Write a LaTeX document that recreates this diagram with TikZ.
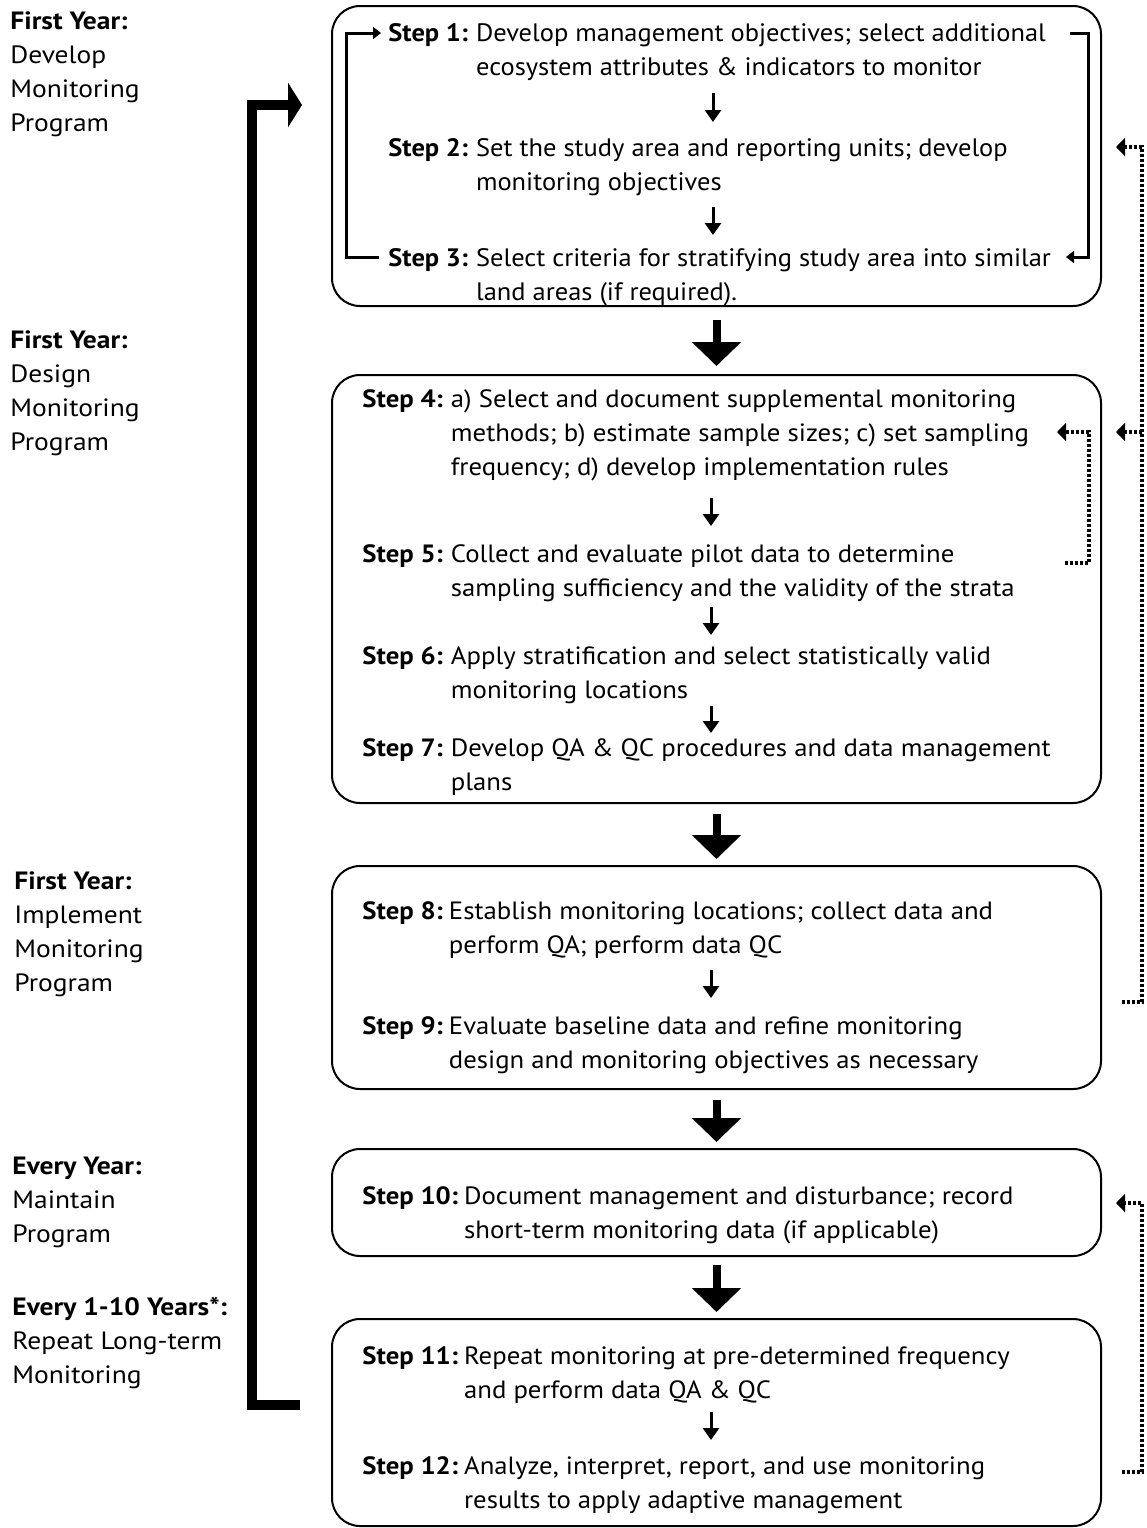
\documentclass[tikz,border=0pt]{standalone}
\usepackage{fontspec}
\setmainfont[FakeStretch=1.1]{PT Sans}
\newfontfamily\boxonefont[FakeStretch=1.05]{PT Sans}
\newfontfamily\boxfont[FakeStretch=1.07]{PT Sans}
\usetikzlibrary{arrows.meta}
\begin{document}
\begin{tikzpicture}[x=0.5pt,y=-0.5pt,
  every node/.style={font=\fontsize{12.5pt}{17pt}\selectfont, inner sep=0pt},
  box/.style={draw, line width=1pt, rounded corners=14pt, anchor=north west},
  steptext/.style={anchor=base west, font=\boxfont\fontsize{12.5pt}{17pt}\selectfont},
  steponetext/.style={anchor=base west, font=\boxonefont\fontsize{12.6pt}{17pt}\selectfont},
  sidelabel/.style={anchor=base west},
  bigarrow/.style={line width=4pt, -{Triangle[length=12pt,width=24pt]}},
  smallarrow/.style={line width=1.5pt, -{Triangle[length=6pt,width=8pt]}},
  bracket/.style={line width=1.5pt, line join=miter, -{Triangle[length=4pt,width=6pt]}},
  dotline/.style={line width=1.6pt, dash pattern=on 1.4pt off 1.1pt, line join=miter, -{Triangle[length=4.5pt,width=9pt]}},
  loopline/.style={line width=5pt, line join=miter, -{Triangle[length=7pt,width=22pt]}}
]
\useasboundingbox (0,0) rectangle (1147,1528);

% boxes
\node[box, minimum width=384.5pt, minimum height=150pt] (b1) at (331,5) {};
\node[box, minimum width=384.5pt, minimum height=214pt] (b2) at (331,374) {};
\node[box, minimum width=384.5pt, minimum height=111.5pt] (b3) at (331,865) {};
\node[box, minimum width=384.5pt, minimum height=53.5pt] (b4) at (331,1148) {};
\node[box, minimum width=384.5pt, minimum height=103.5pt] (b5) at (331,1318) {};

% big arrows between boxes
\draw[bigarrow] ([yshift=-6.5pt]b1.south) -- ([yshift=4pt]b2.north);
\draw[bigarrow] ([yshift=-5pt]b2.south) -- ([yshift=3pt]b3.north);
\draw[bigarrow] ([yshift=-5pt]b3.south) -- ([yshift=3pt]b4.north);
\draw[bigarrow] ([yshift=-4pt]b4.south) -- ([yshift=3pt]b5.north);

% step texts
\node[steponetext] (s1) at (388,41) {\begin{tabular}[t]{@{}l@{\hspace{4pt}}l@{}}\textbf{Step 1:} & Develop management objectives; select additional\\ & ecosystem attributes \& indicators to monitor\end{tabular}};
\node[steponetext] (s2) at (388,156) {\begin{tabular}[t]{@{}l@{\hspace{4pt}}l@{}}\textbf{Step 2:} & Set the study area and reporting units; develop\\ & monitoring objectives\end{tabular}};
\node[steponetext] (s3) at (388,266) {\begin{tabular}[t]{@{}l@{\hspace{4pt}}l@{}}\textbf{Step 3:} & Select criteria for stratifying study area into similar\\ & land areas (if required).\end{tabular}};
\node[steptext] (s4) at (362,407) {\begin{tabular}[t]{@{}l@{\hspace{4pt}}l@{}}\textbf{Step 4:} & a) Select and document supplemental monitoring\\ & methods; b) estimate sample sizes; c) set sampling\\ & frequency; d) develop implementation rules\end{tabular}};
\node[steptext] (s5) at (362,562) {\begin{tabular}[t]{@{}l@{\hspace{4pt}}l@{}}\textbf{Step 5:} & Collect and evaluate pilot data to determine\\ & sampling sufficiency and the validity of the strata\end{tabular}};
\node[steptext] (s6) at (362,664) {\begin{tabular}[t]{@{}l@{\hspace{4pt}}l@{}}\textbf{Step 6:} & Apply stratification and select statistically valid\\ & monitoring locations\end{tabular}};
\node[steptext] (s7) at (362,756) {\begin{tabular}[t]{@{}l@{\hspace{4pt}}l@{}}\textbf{Step 7:} & Develop QA \& QC procedures and data management\\ & plans\end{tabular}};
\node[steptext] (s8) at (362,919) {\begin{tabular}[t]{@{}l@{\hspace{3pt}}l@{}}\textbf{Step 8:} & Establish monitoring locations; collect data and\\ & perform QA; perform data QC\end{tabular}};
\node[steptext] (s9) at (362,1034) {\begin{tabular}[t]{@{}l@{\hspace{3pt}}l@{}}\textbf{Step 9:} & Evaluate baseline data and refine monitoring\\ & design and monitoring objectives as necessary\end{tabular}};
\node[steptext] (s10) at (362,1204) {\begin{tabular}[t]{@{}l@{\hspace{3pt}}l@{}}\textbf{Step 10:} & Document management and disturbance; record\\ & short-term monitoring data (if applicable)\end{tabular}};
\node[steptext] (s11) at (362,1364) {\begin{tabular}[t]{@{}l@{\hspace{3pt}}l@{}}\textbf{Step 11:} & Repeat monitoring at pre-determined frequency\\ & and perform data QA \& QC\end{tabular}};
\node[steptext] (s12) at (362,1474) {\begin{tabular}[t]{@{}l@{\hspace{3pt}}l@{}}\textbf{Step 12:} & Analyze, interpret, report, and use monitoring\\ & results to apply adaptive management\end{tabular}};

% small arrows inside boxes
\coordinate (a12s) at (713,93);   \coordinate (a12e) at (713,122);
\coordinate (a23s) at (713,207);  \coordinate (a23e) at (713,235);
\coordinate (a45s) at (711,498);  \coordinate (a45e) at (711,526);
\coordinate (a56s) at (711,607);  \coordinate (a56e) at (711,635);
\coordinate (a67s) at (711,706);  \coordinate (a67e) at (711,733);
\coordinate (a89s) at (711,970);  \coordinate (a89e) at (711,998);
\coordinate (a1112s) at (711,1412); \coordinate (a1112e) at (711,1440);
\draw[smallarrow] (a12s) -- (a12e);
\draw[smallarrow] (a23s) -- (a23e);
\draw[smallarrow] (a45s) -- (a45e);
\draw[smallarrow] (a56s) -- (a56e);
\draw[smallarrow] (a67s) -- (a67e);
\draw[smallarrow] (a89s) -- (a89e);
\draw[smallarrow] (a1112s) -- (a1112e);

% brackets in box 1
\coordinate (lbS) at (379,257); \coordinate (lbT) at (381,33);
\draw[bracket] (lbS) -- (346,257) -- (346,33) -- (lbT);
\coordinate (rbS) at (1070,33); \coordinate (rbT) at (1066,257);
\draw[bracket] (rbS) -- (1088,33) -- (1088,257) -- (rbT);

% dotted feedback in box 2
\coordinate (d45S) at (1065,563); \coordinate (d45T) at (1057,432);
\draw[dotline] (d45S) -- (1089,563) -- (1089,432) -- (d45T);

% long dotted feedback lines
\coordinate (fbS) at (1122,1002); \coordinate (fbT1) at (1116,147); \coordinate (fbT2) at (1116,432);
\draw[dotline] (fbS) -- (1142,1002) -- (1142,147) -- (fbT1);
\draw[dotline] (1142,432) -- (fbT2);
\coordinate (fb2S) at (1122,1472); \coordinate (fb2T) at (1116,1203);
\draw[dotline] (fb2S) -- (1142,1472) -- (1142,1203) -- (fb2T);

% big loop arrow on the left
\coordinate (loopS) at (300,1405); \coordinate (loopT) at (302,105);
\draw[loopline] (loopS) -- (252,1405) -- (252,105) -- (loopT);

% side labels
\node[sidelabel] (l1) at (10,29) {\begin{tabular}[t]{@{}l@{}}\textbf{First Year:}\\Develop\\Monitoring\\Program\end{tabular}};
\node[sidelabel] (l2) at (10,348) {\begin{tabular}[t]{@{}l@{}}\textbf{First Year:}\\Design\\Monitoring\\Program\end{tabular}};
\node[sidelabel] (l3) at (14,889) {\begin{tabular}[t]{@{}l@{}}\textbf{First Year:}\\Implement\\Monitoring\\Program\end{tabular}};
\node[sidelabel] (l4) at (12,1174) {\begin{tabular}[t]{@{}l@{}}\textbf{Every Year:}\\Maintain\\Program\end{tabular}};
\node[sidelabel] (l5) at (12,1315) {\begin{tabular}[t]{@{}l@{}}\textbf{Every 1-10 Years*:}\\Repeat Long-term\\Monitoring\end{tabular}};
\end{tikzpicture}
\end{document}
